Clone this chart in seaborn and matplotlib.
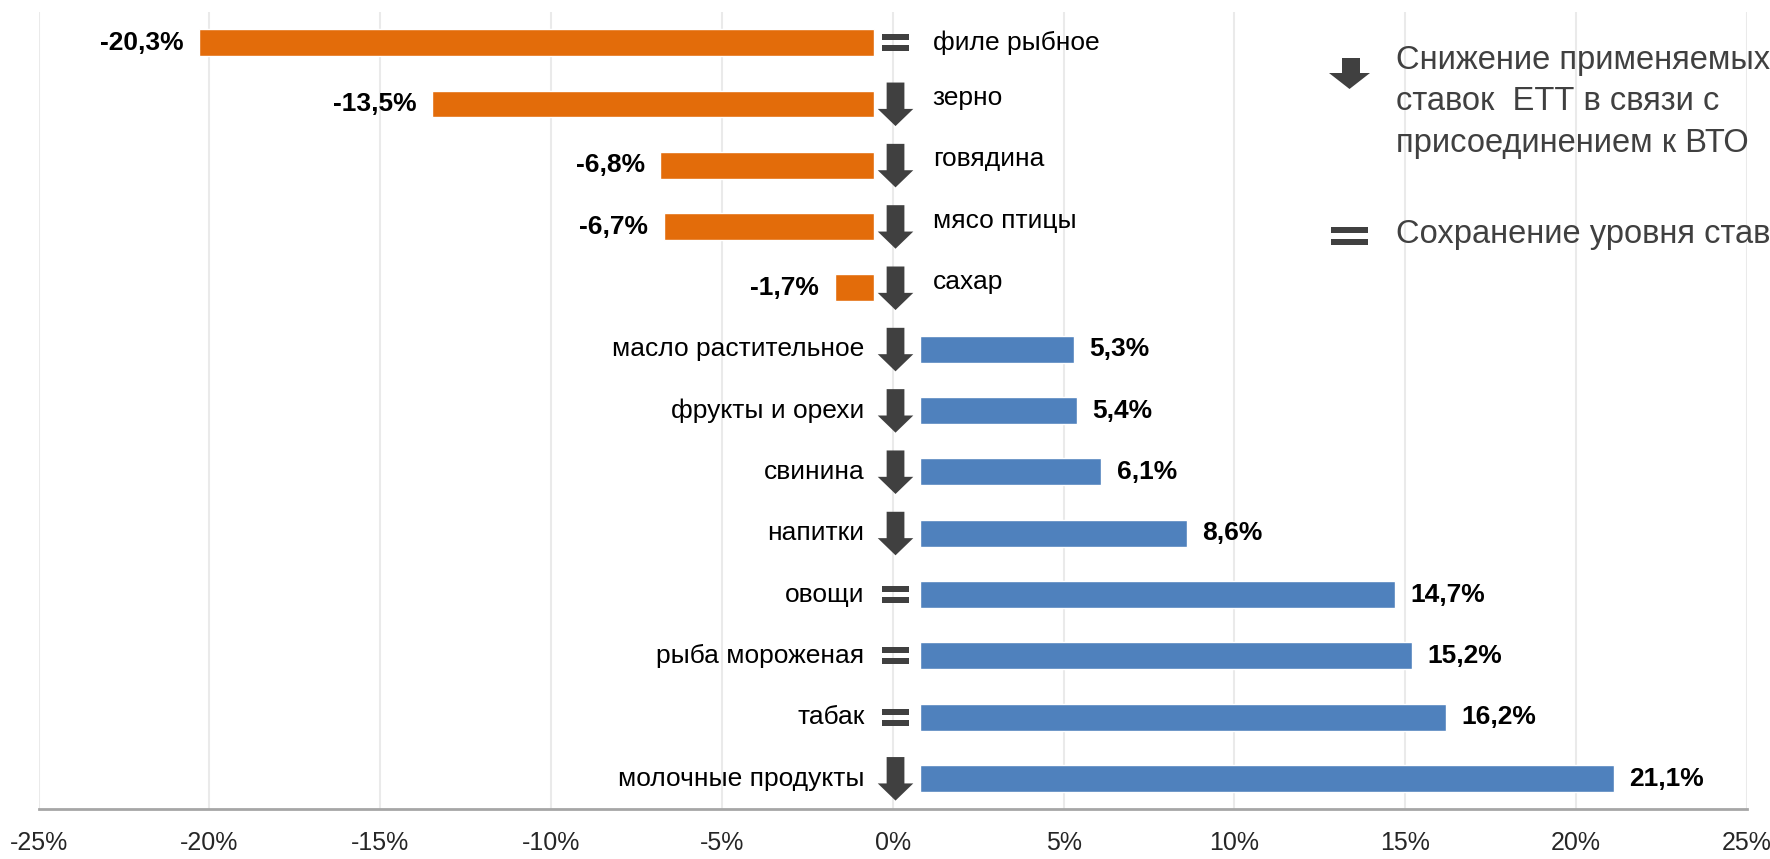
import matplotlib
matplotlib.use('Agg')
import matplotlib.pyplot as plt
from matplotlib.patches import Polygon, Rectangle
import seaborn as sns
import pandas as pd

# данные диаграммы
categories = ['филе рыбное', 'зерно', 'говядина', 'мясо птицы', 'сахар',
              'масло растительное', 'фрукты и орехи', 'свинина', 'напитки',
              'овощи', 'рыба мороженая', 'табак', 'молочные продукты']
values = [-20.3, -13.5, -6.8, -6.7, -1.7, 5.3, 5.4, 6.1, 8.6, 14.7, 15.2, 16.2, 21.1]
marks = ['eq', 'down', 'down', 'down', 'down', 'down', 'down', 'down', 'down',
         'eq', 'eq', 'eq', 'down']
x_ticks = [-25, -20, -15, -10, -5, 0, 5, 10, 15, 20, 25]
legend_texts = ['Снижение применяемых\nставок  ЕТТ в связи с\nприсоединением к ВТО',
                'Сохранение уровня ставок']

ORANGE = '#E36C0A'
BLUE = '#4F81BD'
DARK = '#404040'

sns.set_style('white')
plt.rcParams['font.family'] = ['Liberation Sans', 'DejaVu Sans']

df = pd.DataFrame({'cat': categories, 'val': values,
                   'sign': ['neg' if v < 0 else 'pos' for v in values]})

fig = plt.figure(figsize=(17.7, 8.59), dpi=100)
ax = fig.add_axes([0.0218, 0.058, 0.9652, 0.928])

sns.barplot(data=df, x='val', y='cat', hue='sign', palette={'neg': ORANGE, 'pos': BLUE},
            dodge=False, width=0.44, orient='h', legend=False, saturation=1, ax=ax, zorder=3)

# бары не начинаются с нуля: место под значки в центре
gap_pos, gap_neg = 0.8, 0.54
for p in ax.patches:
    w = p.get_width()
    if w > 0:
        p.set_x(gap_pos)
        p.set_width(w - gap_pos)
    elif w < 0:
        p.set_x(-gap_neg)
        p.set_width(w + gap_neg)

xc = 0.08
for i, (cat, v, m) in enumerate(zip(categories, values, marks)):
    lbl = f'{v:.1f}%'.replace('.', ',')
    if v < 0:
        ax.text(v - 0.45, i, lbl, ha='right', va='center', fontsize=19,
                fontweight='bold', color='black')
        off = 0.1 if m == 'down' else 0
        ax.text(1.17, i - off, cat, ha='left', va='center', fontsize=19, color='black')
    else:
        ax.text(v + 0.45, i, lbl, ha='left', va='center', fontsize=19,
                fontweight='bold', color='black')
        ax.text(-0.83, i, cat, ha='right', va='center', fontsize=19, color='black')

    if m == 'down':
        sw, hw = 0.26, 0.52
        top, neck, tip = i - 0.35, i + 0.08, i + 0.36
        ax.add_patch(Polygon([(xc - sw, top), (xc + sw, top), (xc + sw, neck),
                              (xc + hw, neck), (xc, tip), (xc - hw, neck),
                              (xc - sw, neck)], closed=True, color=DARK, zorder=4, lw=0))
    else:
        ax.add_patch(Rectangle((xc - 0.39, i - 0.14), 0.78, 0.1, color=DARK, zorder=4, lw=0))
        ax.add_patch(Rectangle((xc - 0.39, i + 0.04), 0.78, 0.1, color=DARK, zorder=4, lw=0))

ax.set_xlim(-25, 25)
ax.set_xticks(x_ticks)
ax.set_xticklabels([f'{t}%' for t in x_ticks], fontsize=18, color='#262626')
ax.set_yticks([])
ax.set_xlabel('')
ax.set_ylabel('')
ax.tick_params(axis='x', length=0, pad=16)
ax.grid(axis='x', color='#EAEAEA', lw=1.5, zorder=0)
ax.set_axisbelow(True)
for s in ['top', 'left', 'right']:
    ax.spines[s].set_visible(False)
ax.spines['bottom'].set_color('#A6A6A6')
ax.spines['bottom'].set_linewidth(2)
ax.spines['bottom'].set_zorder(2)


# легенда справа (в пикселях фигуры)
def px(x, y):
    return (x / 1770, 1 - y / 859)


fig.add_artist(Polygon([px(1342, 58), px(1360, 58), px(1360, 73), px(1370, 73),
                        px(1349.5, 89), px(1329, 73), px(1342, 73)], closed=True,
                       color=DARK, lw=0, transform=fig.transFigure))
fig.add_artist(Rectangle(px(1331, 233), 37 / 1770, 6 / 859, color=DARK, lw=0,
                         transform=fig.transFigure))
fig.add_artist(Rectangle(px(1331, 245), 37 / 1770, 6 / 859, color=DARK, lw=0,
                         transform=fig.transFigure))
fig.text(1396 / 1770, 1 - 102 / 859, legend_texts[0], ha='left', va='center',
         fontsize=23.5, color=DARK, linespacing=1.45)
fig.text(1396 / 1770, 1 - 234 / 859, legend_texts[1], ha='left', va='center',
         fontsize=23.5, color=DARK)

fig.savefig('out.png', dpi=100)
